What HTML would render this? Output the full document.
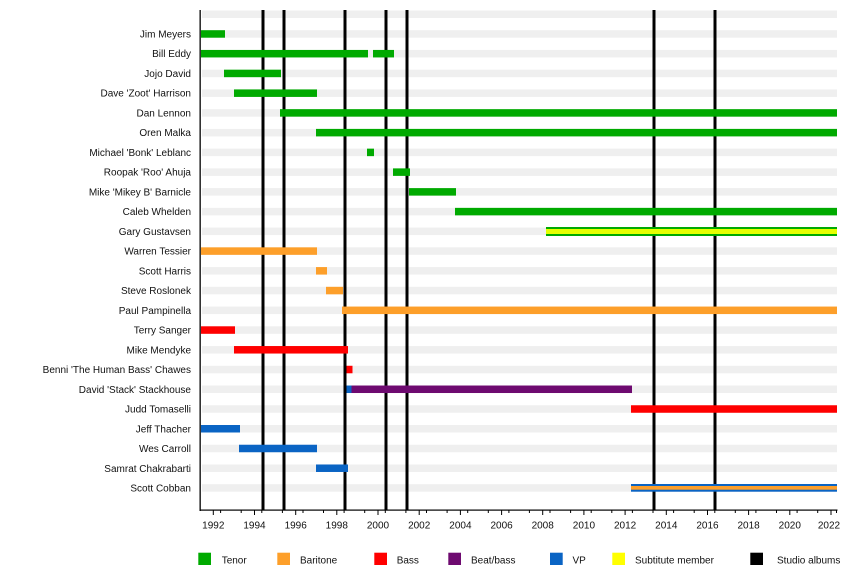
<!DOCTYPE html>
<html><head><meta charset="utf-8"><style>
html,body{margin:0;padding:0;background:#fff;}
svg{display:block;}
text{font-family:"Liberation Sans",Arial,sans-serif;font-size:10px;fill:#111;}
</style></head><body>
<svg width="850" height="570" viewBox="0 0 850 570" xmlns="http://www.w3.org/2000/svg">
<!-- stripes -->
<g fill="#efefef">
<rect x="202" y="10.5" width="635" height="7.5"/>
<rect x="202" y="30.2" width="635" height="7.5"/>
<rect x="202" y="49.94" width="635" height="7.5"/>
<rect x="202" y="69.68" width="635" height="7.5"/>
<rect x="202" y="89.42" width="635" height="7.5"/>
<rect x="202" y="109.16" width="635" height="7.5"/>
<rect x="202" y="128.9" width="635" height="7.5"/>
<rect x="202" y="148.64" width="635" height="7.5"/>
<rect x="202" y="168.38" width="635" height="7.5"/>
<rect x="202" y="188.12" width="635" height="7.5"/>
<rect x="202" y="207.86" width="635" height="7.5"/>
<rect x="202" y="227.6" width="635" height="7.5"/>
<rect x="202" y="247.34" width="635" height="7.5"/>
<rect x="202" y="267.08" width="635" height="7.5"/>
<rect x="202" y="286.82" width="635" height="7.5"/>
<rect x="202" y="306.56" width="635" height="7.5"/>
<rect x="202" y="326.3" width="635" height="7.5"/>
<rect x="202" y="346.04" width="635" height="7.5"/>
<rect x="202" y="365.78" width="635" height="7.5"/>
<rect x="202" y="385.52" width="635" height="7.5"/>
<rect x="202" y="405.26" width="635" height="7.5"/>
<rect x="202" y="425" width="635" height="7.5"/>
<rect x="202" y="444.74" width="635" height="7.5"/>
<rect x="202" y="464.48" width="635" height="7.5"/>
<rect x="202" y="484.22" width="635" height="7.5"/>
</g>
<!-- album lines -->
<g fill="#000">
<rect x="261.5" y="10" width="3" height="500"/>
<rect x="282.5" y="10" width="3" height="500"/>
<rect x="343.5" y="10" width="3" height="500"/>
<rect x="384.5" y="10" width="3" height="500"/>
<rect x="405.5" y="10" width="3" height="500"/>
<rect x="652.5" y="10" width="3" height="500"/>
<rect x="713.5" y="10" width="3" height="500"/>
</g>
<!-- bars: tenor -->
<g fill="#00aa00">
<rect x="201" y="30.2" width="24" height="7.5"/>
<rect x="201" y="49.94" width="167" height="7.5"/>
<rect x="373" y="49.94" width="21" height="7.5"/>
<rect x="224" y="69.68" width="57" height="7.5"/>
<rect x="234" y="89.42" width="83" height="7.5"/>
<rect x="280" y="109.16" width="557" height="7.5"/>
<rect x="316" y="128.9" width="521" height="7.5"/>
<rect x="367" y="148.64" width="7" height="7.5"/>
<rect x="393" y="168.38" width="17" height="7.5"/>
<rect x="409" y="188.12" width="47" height="7.5"/>
<rect x="455" y="207.86" width="382" height="7.5"/>
<rect x="546" y="227" width="291" height="9"/>
</g>
<rect x="546" y="229" width="291" height="5" fill="#e6ff00"/>
<!-- baritone -->
<g fill="#fd9f2a">
<rect x="201" y="247.34" width="116" height="7.5"/>
<rect x="316" y="267.08" width="11" height="7.5"/>
<rect x="326" y="286.82" width="17" height="7.5"/>
<rect x="342" y="306.56" width="495" height="7.5"/>
</g>
<!-- bass -->
<g fill="#ff0000">
<rect x="201" y="326.3" width="34" height="7.5"/>
<rect x="234" y="346.04" width="114" height="7.5"/>
<rect x="346.5" y="365.78" width="6" height="7.5"/>
<rect x="631" y="405.26" width="206" height="7.5"/>
</g>
<!-- beat/bass -->
<rect x="351.5" y="385.52" width="280.5" height="7.5" fill="#6e0a70"/>
<!-- VP -->
<g fill="#0a64c4">
<rect x="346.5" y="385.52" width="5" height="7.5"/>
<rect x="201" y="425" width="39" height="7.5"/>
<rect x="239" y="444.74" width="78" height="7.5"/>
<rect x="316" y="464.48" width="32" height="7.5"/>
<rect x="631" y="484" width="206" height="7.7"/>
</g>
<rect x="631" y="486" width="206" height="3.7" fill="#fd9f2a"/>
<!-- axes -->
<rect x="199.5" y="10" width="1.3" height="501" fill="#000"/>
<rect x="199.5" y="509.5" width="638" height="1.2" fill="#000"/>
<g stroke="#000" stroke-width="1">
<line x1="213.3" y1="510" x2="213.3" y2="515"/>
<line x1="254.5" y1="510" x2="254.5" y2="515"/>
<line x1="295.7" y1="510" x2="295.7" y2="515"/>
<line x1="336.8" y1="510" x2="336.8" y2="515"/>
<line x1="378" y1="510" x2="378" y2="515"/>
<line x1="419.2" y1="510" x2="419.2" y2="515"/>
<line x1="460.4" y1="510" x2="460.4" y2="515"/>
<line x1="501.6" y1="510" x2="501.6" y2="515"/>
<line x1="542.7" y1="510" x2="542.7" y2="515"/>
<line x1="583.9" y1="510" x2="583.9" y2="515"/>
<line x1="625.1" y1="510" x2="625.1" y2="515"/>
<line x1="666.3" y1="510" x2="666.3" y2="515"/>
<line x1="707.5" y1="510" x2="707.5" y2="515"/>
<line x1="748.6" y1="510" x2="748.6" y2="515"/>
<line x1="789.8" y1="510" x2="789.8" y2="515"/>
<line x1="831" y1="510" x2="831" y2="515"/>
</g>
<g stroke="#000" stroke-width="1">
<line x1="220.6" y1="510" x2="220.6" y2="513"/>
<line x1="241.2" y1="510" x2="241.2" y2="513"/>
<line x1="261.8" y1="510" x2="261.8" y2="513"/>
<line x1="282.4" y1="510" x2="282.4" y2="513"/>
<line x1="303" y1="510" x2="303" y2="513"/>
<line x1="323.5" y1="510" x2="323.5" y2="513"/>
<line x1="344.1" y1="510" x2="344.1" y2="513"/>
<line x1="364.7" y1="510" x2="364.7" y2="513"/>
<line x1="385.3" y1="510" x2="385.3" y2="513"/>
<line x1="405.9" y1="510" x2="405.9" y2="513"/>
<line x1="426.5" y1="510" x2="426.5" y2="513"/>
<line x1="447.1" y1="510" x2="447.1" y2="513"/>
<line x1="467.7" y1="510" x2="467.7" y2="513"/>
<line x1="488.3" y1="510" x2="488.3" y2="513"/>
<line x1="508.9" y1="510" x2="508.9" y2="513"/>
<line x1="529.4" y1="510" x2="529.4" y2="513"/>
<line x1="550" y1="510" x2="550" y2="513"/>
<line x1="570.6" y1="510" x2="570.6" y2="513"/>
<line x1="591.2" y1="510" x2="591.2" y2="513"/>
<line x1="611.8" y1="510" x2="611.8" y2="513"/>
<line x1="632.4" y1="510" x2="632.4" y2="513"/>
<line x1="653" y1="510" x2="653" y2="513"/>
<line x1="673.6" y1="510" x2="673.6" y2="513"/>
<line x1="694.2" y1="510" x2="694.2" y2="513"/>
<line x1="714.8" y1="510" x2="714.8" y2="513"/>
<line x1="735.3" y1="510" x2="735.3" y2="513"/>
<line x1="755.9" y1="510" x2="755.9" y2="513"/>
<line x1="776.5" y1="510" x2="776.5" y2="513"/>
<line x1="797.1" y1="510" x2="797.1" y2="513"/>
<line x1="817.7" y1="510" x2="817.7" y2="513"/>
<line x1="836.5" y1="510" x2="836.5" y2="513"/>
</g>
<g text-anchor="middle">
<text x="213.3" y="528.5">1992</text>
<text x="254.5" y="528.5">1994</text>
<text x="295.7" y="528.5">1996</text>
<text x="336.8" y="528.5">1998</text>
<text x="378" y="528.5">2000</text>
<text x="419.2" y="528.5">2002</text>
<text x="460.4" y="528.5">2004</text>
<text x="501.6" y="528.5">2006</text>
<text x="542.7" y="528.5">2008</text>
<text x="583.9" y="528.5">2010</text>
<text x="625.1" y="528.5">2012</text>
<text x="666.3" y="528.5">2014</text>
<text x="707.5" y="528.5">2016</text>
<text x="748.6" y="528.5">2018</text>
<text x="789.8" y="528.5">2020</text>
<text x="829" y="528.5">2022</text>
</g>
<!-- labels -->
<g text-anchor="end">
<text x="191" y="37.5">Jim Meyers</text>
<text x="191" y="57.2">Bill Eddy</text>
<text x="191" y="77">Jojo David</text>
<text x="191" y="96.7">Dave 'Zoot' Harrison</text>
<text x="191" y="116.4">Dan Lennon</text>
<text x="191" y="136.2">Oren Malka</text>
<text x="191" y="155.9">Michael 'Bonk' Leblanc</text>
<text x="191" y="175.7">Roopak 'Roo' Ahuja</text>
<text x="191" y="195.4">Mike 'Mikey B' Barnicle</text>
<text x="191" y="215.1">Caleb Whelden</text>
<text x="191" y="234.9">Gary Gustavsen</text>
<text x="191" y="254.6">Warren Tessier</text>
<text x="191" y="274.4">Scott Harris</text>
<text x="191" y="294.1">Steve Roslonek</text>
<text x="191" y="313.8">Paul Pampinella</text>
<text x="191" y="333.6">Terry Sanger</text>
<text x="191" y="353.3">Mike Mendyke</text>
<text x="191" y="373.1">Benni 'The Human Bass' Chawes</text>
<text x="191" y="392.8">David 'Stack' Stackhouse</text>
<text x="191" y="412.5">Judd Tomaselli</text>
<text x="191" y="432.3">Jeff Thacher</text>
<text x="191" y="452">Wes Carroll</text>
<text x="191" y="471.8">Samrat Chakrabarti</text>
<text x="191" y="491.5">Scott Cobban</text>
</g>
<!-- legend -->
<rect x="198.3" y="552.7" width="12.7" height="12.3" fill="#00aa00"/>
<text x="221.7" y="563.5">Tenor</text>
<rect x="277.3" y="552.7" width="12.7" height="12.3" fill="#fd9f2a"/>
<text x="300" y="563.5">Baritone</text>
<rect x="374.3" y="552.7" width="12.7" height="12.3" fill="#ff0000"/>
<text x="396.7" y="563.5">Bass</text>
<rect x="448.3" y="552.7" width="12.7" height="12.3" fill="#6e0a70"/>
<text x="471" y="563.5">Beat/bass</text>
<rect x="550" y="552.7" width="12.7" height="12.3" fill="#0a64c4"/>
<text x="572.5" y="563.5">VP</text>
<rect x="612.3" y="552.7" width="12.7" height="12.3" fill="#ffff00"/>
<text x="635" y="563.5">Subtitute member</text>
<rect x="750.3" y="552.7" width="12.7" height="12.3" fill="#000"/>
<text x="777" y="563.5">Studio albums</text>
</svg>
</body></html>
